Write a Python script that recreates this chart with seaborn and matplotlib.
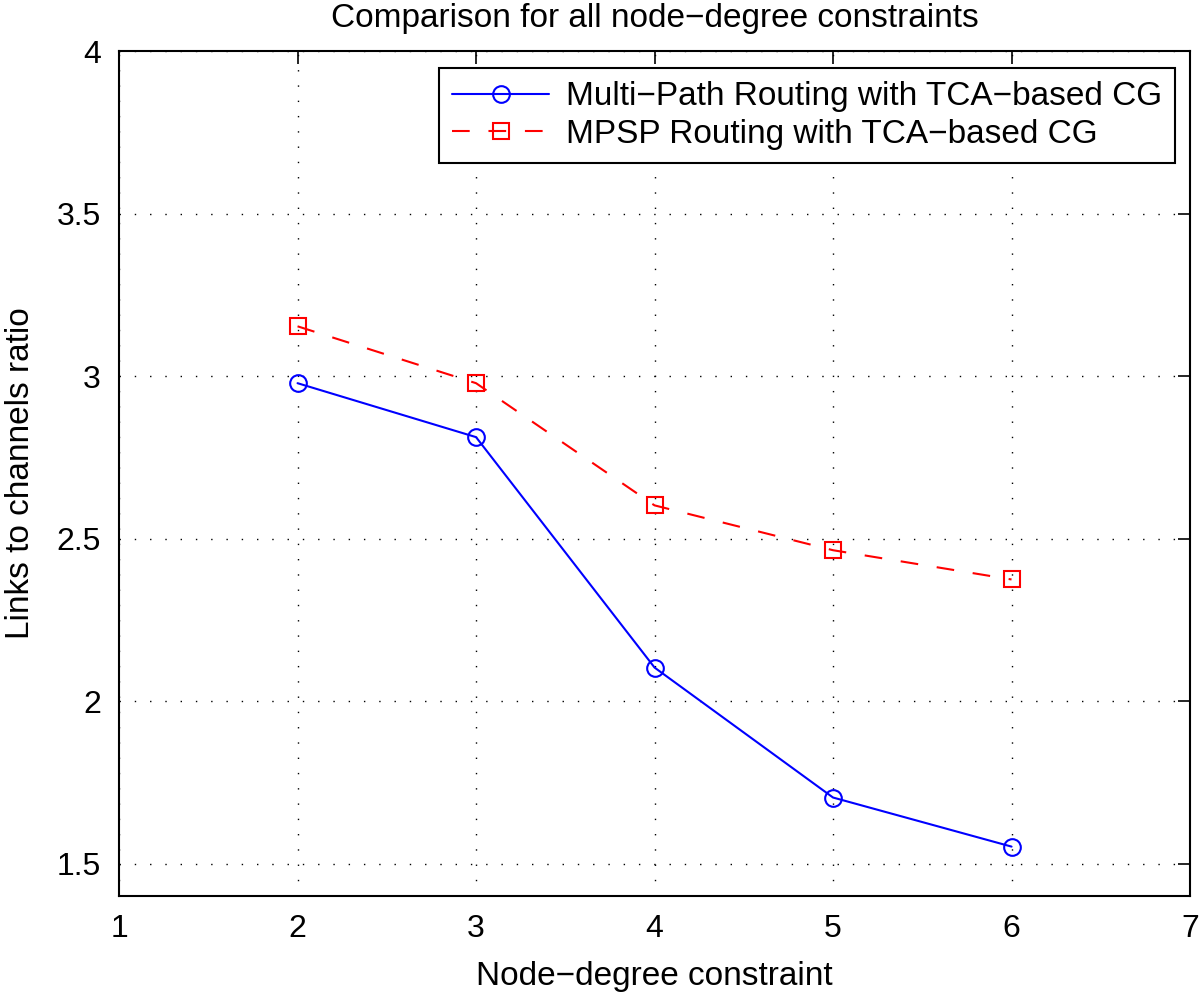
import matplotlib
matplotlib.use("Agg")
import matplotlib.pyplot as plt
import pandas as pd
import seaborn as sns

# =============================================================================
# Data
# =============================================================================
node_degree = [2, 3, 4, 5, 6]
multi_path = [2.978, 2.812, 2.103, 1.703, 1.552]
mpsp = [3.153, 2.978, 2.602, 2.464, 2.374]

x_ticks = [1, 2, 3, 4, 5, 6, 7]
y_ticks = [1.5, 2, 2.5, 3, 3.5, 4]
y_tick_labels = ["1.5", "2", "2.5", "3", "3.5", "4"]

label_multi = "Multi\u2212Path Routing with TCA\u2212based CG"
label_mpsp = "MPSP Routing with TCA\u2212based CG"

df_multi = pd.DataFrame({"degree": node_degree, "ratio": multi_path})
df_mpsp = pd.DataFrame({"degree": node_degree, "ratio": mpsp})

# =============================================================================
# Plot
# =============================================================================
sns.set_style("white")
plt.rcParams["font.family"] = ["Liberation Sans", "DejaVu Sans"]
plt.rcParams["text.color"] = "black"
plt.rcParams["axes.labelcolor"] = "black"
plt.rcParams["xtick.color"] = "black"
plt.rcParams["ytick.color"] = "black"

fig = plt.figure(figsize=(12, 9.97), dpi=100)
ax = fig.add_axes([0.0992, 0.1013, 0.8925, 0.8475])

sns.lineplot(
    data=df_multi, x="degree", y="ratio", ax=ax,
    color="#0000ff", marker="o", markersize=12, markerfacecolor="none",
    markeredgecolor="#0000ff", markeredgewidth=1.5, linewidth=1.5,
    label=label_multi,
)
sns.lineplot(
    data=df_mpsp, x="degree", y="ratio", ax=ax,
    color="#ff0000", marker="s", markersize=12, markerfacecolor="none",
    markeredgecolor="#ff0000", markeredgewidth=1.5, linewidth=1.5,
    label=label_mpsp,
)
ax.lines[1].set_dashes((8.5, 9))

ax.set_xlim(1, 7)
ax.set_ylim(1.4, 4)
ax.set_xticks(x_ticks)
ax.set_yticks(y_ticks)
ax.set_xticklabels([str(v) for v in x_ticks])
ax.set_yticklabels(y_tick_labels)

ax.grid(True, color="black", linestyle=(0, (1, 10)), linewidth=1.0)
ax.tick_params(direction="in", length=9, width=1.2, labelsize=23,
               top=True, right=True)
ax.tick_params(axis="x", pad=13)
ax.tick_params(axis="y", pad=13)
for spine in ax.spines.values():
    spine.set_visible(True)
    spine.set_color("black")
    spine.set_linewidth(1.5)

ax.set_xlabel("Node\u2212degree constraint", fontsize=24)
ax.xaxis.set_label_coords(0.5, -0.077)
ax.set_ylabel("Links to channels ratio", fontsize=24)
ax.yaxis.set_label_coords(-0.078, 0.5)
ax.set_title("Comparison for all node\u2212degree constraints", fontsize=24, pad=17)

leg = ax.legend(
    loc="upper right", bbox_to_anchor=(0.986, 0.980), borderaxespad=0,
    fontsize=24, frameon=True, fancybox=False, edgecolor="black",
    framealpha=1, handlelength=2.9, handletextpad=0.5,
    borderpad=0.4, labelspacing=0.2,
)
leg.get_frame().set_linewidth(1.5)

fig.savefig("out.png", dpi=100)
plt.close(fig)
